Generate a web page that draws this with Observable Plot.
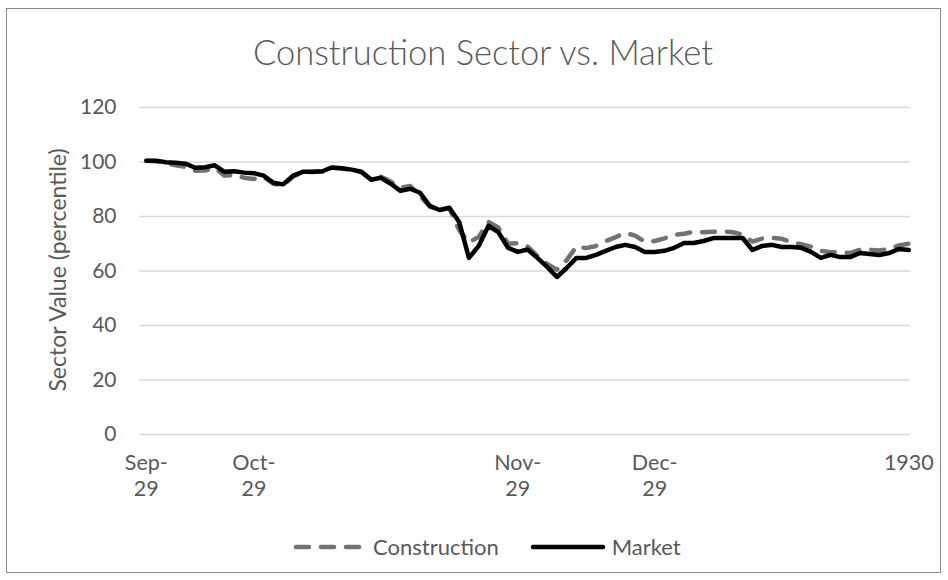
<!DOCTYPE html>
<html>
<head>
<meta charset="utf-8">
<script src="https://cdn.jsdelivr.net/npm/d3@7"></script>
<script src="https://cdn.jsdelivr.net/npm/@observablehq/plot@0.6"></script>
<style>
  html, body { margin: 0; padding: 0; background: #fff; }
  #wrap { position: relative; width: 948px; height: 580px; font-family: Lato, "Noto Sans", sans-serif; color: #595959; overflow: hidden; }
  #frame { position: absolute; left: 6px; top: 8px; width: 935px; height: 565px; box-sizing: border-box; border: 1px solid #898989; }
  #title { position: absolute; left: 0; width: 966px; top: 34px; text-align: center; font-size: 34.5px; line-height: 36px; font-weight: 300; }
  #ylabel { position: absolute; left: -143px; width: 400px; top: 257px; text-align: center; font-size: 23px; line-height: 26px; transform: rotate(-90deg); transform-origin: 50% 50%; }
  #chart { position: absolute; left: 0; top: 0; }
  #legend { position: absolute; left: 293px; top: 534px; display: flex; align-items: center; font-size: 22px; line-height: 26px; white-space: nowrap; }
  #legend svg { display: block; }
</style>
</head>
<body>
<div id="wrap">
  <div id="frame"></div>
  <div id="chart"></div>
  <div id="title">Construction Sector vs. Market</div>
  <div id="ylabel">Sector Value (percentile)</div>
  <div id="legend"></div>
</div>
<script>
const seriesNames = ["Construction", "Market"];
const seriesColors = ["#767171", "#000000"];

const market = [
  100.5, 100.5, 99.9, 99.7, 99.4, 97.9, 98.1, 98.8, 96.4, 96.6,
  96.1, 95.9, 95.0, 92.4, 91.8, 95.0, 96.4, 96.4, 96.6, 98.0,
  97.7, 97.2, 96.4, 93.5, 94.2, 92.0, 89.4, 90.2, 88.7, 83.9,
  82.4, 83.2, 78.0, 64.8, 69.2, 76.6, 74.3, 68.5, 67.0, 67.9,
  64.8, 61.5, 57.8, 61.1, 64.8, 64.8, 65.9, 67.4, 68.8, 69.6,
  68.8, 67.0, 67.0, 67.4, 68.5, 70.3, 70.3, 71.0, 72.1, 72.1,
  72.1, 72.1, 67.7, 69.2, 69.6, 68.8, 68.8, 68.5, 67.0, 64.8,
  65.9, 65.1, 65.1, 66.6, 66.2, 65.9, 66.6, 68.1, 67.7
];

const construction = [
  100.5, 100.3, 99.5, 98.8, 98.2, 96.8, 96.9, 97.8, 95.0, 95.2,
  94.2, 93.8, 94.5, 92.0, 91.4, 94.6, 96.3, 96.3, 96.5, 97.9,
  97.6, 97.1, 96.2, 93.6, 94.6, 92.8, 90.6, 91.2, 87.5, 83.6,
  82.5, 83.0, 75.0, 70.5, 72.5, 78.0, 76.0, 70.0, 70.2, 69.0,
  65.6, 62.6, 60.5, 64.0, 69.0, 68.4, 69.2, 71.0, 72.4, 74.0,
  73.0, 70.7, 71.0, 72.0, 73.3, 73.7, 74.4, 74.2, 74.4, 74.6,
  74.2, 73.4, 70.8, 71.9, 72.2, 71.8, 70.6, 69.8, 68.9, 67.4,
  66.9, 66.9, 66.6, 67.8, 67.8, 67.5, 68.2, 69.4, 70.0
];

const xTickIndex = [0, 11, 38, 52, 78];
const xTickLabels = ["Sep-\n29", "Oct-\n29", "Nov-\n29", "Dec-\n29", "1930"];
const yTicks = [0, 20, 40, 60, 80, 100, 120];

const data = market.map((m, i) => ({ i, market: m, construction: construction[i] }));

const chart = Plot.plot({
  width: 948,
  height: 580,
  marginTop: 107,
  marginBottom: 146,
  marginLeft: 139,
  marginRight: 38,
  style: { fontFamily: "Lato, 'Noto Sans', sans-serif", fontSize: "21px", color: "#595959", background: "transparent", overflow: "visible" },
  x: { domain: [-0.7, 78.17], axis: null },
  y: { domain: [0, 120], axis: null },
  marks: [
    Plot.gridY(yTicks, { stroke: "#d9d9d9", strokeOpacity: 1, strokeWidth: 1.3 }),
    Plot.axisY(yTicks, { tickSize: 0, tickPadding: 23, fontSize: 21, fill: "#595959", label: null }),
    Plot.axisX(xTickIndex, {
      tickSize: 0, tickPadding: 17, fontSize: 21.5, fill: "#595959", label: null, lineHeight: 1.22,
      tickFormat: (d) => xTickLabels[xTickIndex.indexOf(d)]
    }),
    Plot.lineY(data, { x: "i", y: "construction", stroke: seriesColors[0], strokeWidth: 4.5, strokeDasharray: "13,12", strokeLinecap: "round", strokeLinejoin: "round" }),
    Plot.lineY(data, { x: "i", y: "market", stroke: seriesColors[1], strokeWidth: 4.5, strokeLinecap: "round", strokeLinejoin: "round" })
  ]
});
document.getElementById("chart").appendChild(chart);

// legend
const legend = d3.select("#legend");
const s1 = legend.append("svg").attr("width", 70).attr("height", 10).style("margin-right", "10px");
s1.append("line").attr("x1", 3).attr("x2", 67).attr("y1", 5).attr("y2", 5)
  .attr("stroke", seriesColors[0]).attr("stroke-width", 4.5).attr("stroke-linecap", "round").attr("stroke-dasharray", "13,12");
legend.append("span").text(seriesNames[0]).style("margin-right", "31px");
const s2 = legend.append("svg").attr("width", 76).attr("height", 10).style("margin-right", "6px");
s2.append("line").attr("x1", 3).attr("x2", 73).attr("y1", 5).attr("y2", 5)
  .attr("stroke", seriesColors[1]).attr("stroke-width", 4.5).attr("stroke-linecap", "round");
legend.append("span").text(seriesNames[1]);
</script>
</body>
</html>
